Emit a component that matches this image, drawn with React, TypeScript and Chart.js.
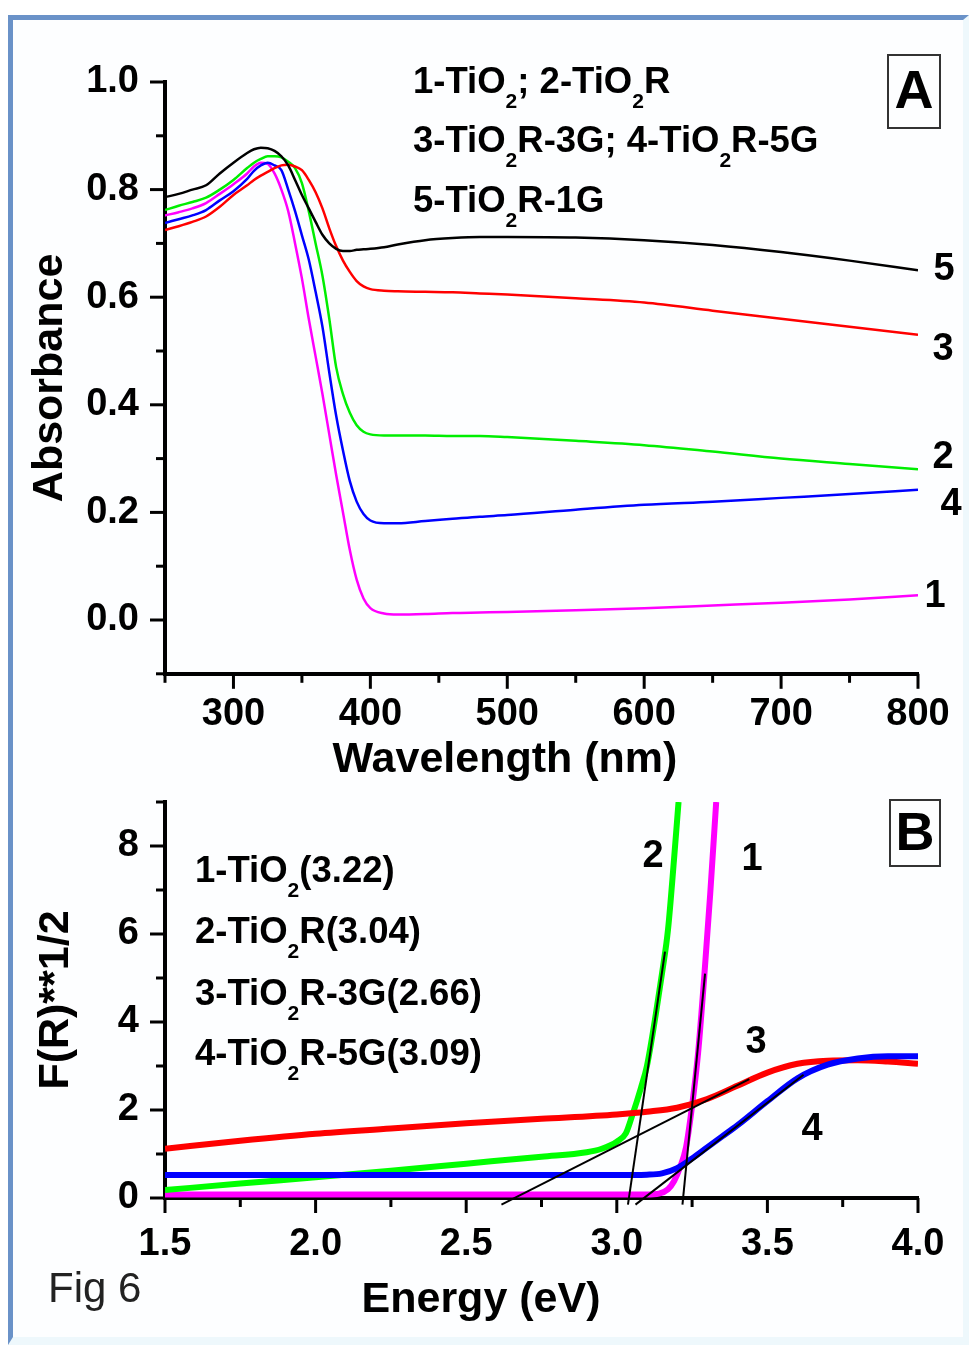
import React, { useEffect, useRef } from 'react';
import { Chart, registerables } from 'chart.js';

Chart.register(...registerables);

const FONT = '"Liberation Sans", Arial, Helvetica, sans-serif';

// ---------- Panel A: absorbance spectra ----------
const WAVELENGTH = [250, 260, 270, 280, 290, 300, 310, 315, 320, 325, 330, 335, 340, 345, 350, 355, 360, 365, 370, 375, 380, 385, 390, 395, 400, 410, 420, 440, 460, 480, 500, 550, 600, 650, 700, 750, 800];
const ABS_1_TIO2 = [0.752, 0.758, 0.765, 0.775, 0.792, 0.81, 0.83, 0.843, 0.85, 0.848, 0.83, 0.8, 0.76, 0.7, 0.635, 0.56, 0.49, 0.42, 0.345, 0.27, 0.2, 0.13, 0.075, 0.04, 0.022, 0.012, 0.01, 0.011, 0.013, 0.014, 0.015, 0.018, 0.022, 0.027, 0.032, 0.038, 0.046];
const ABS_2_TIO2R = [0.762, 0.77, 0.777, 0.785, 0.8, 0.818, 0.84, 0.85, 0.857, 0.862, 0.862, 0.86, 0.852, 0.84, 0.812, 0.76, 0.7, 0.64, 0.56, 0.47, 0.42, 0.385, 0.362, 0.35, 0.345, 0.343, 0.343, 0.343, 0.342, 0.342, 0.34, 0.333, 0.325, 0.313, 0.3, 0.29, 0.28];
const ABS_3_TIO2R_3G = [0.725, 0.732, 0.74, 0.75, 0.768, 0.79, 0.808, 0.818, 0.826, 0.833, 0.84, 0.845, 0.846, 0.843, 0.836, 0.818, 0.795, 0.765, 0.728, 0.695, 0.668, 0.647, 0.63, 0.62, 0.615, 0.612, 0.611, 0.61, 0.609, 0.607, 0.605, 0.598, 0.59, 0.575, 0.56, 0.545, 0.53];
const ABS_4_TIO2R_5G = [0.738, 0.745, 0.752, 0.762, 0.78, 0.797, 0.82, 0.835, 0.845, 0.85, 0.845, 0.836, 0.8, 0.76, 0.715, 0.67, 0.61, 0.545, 0.46, 0.38, 0.315, 0.258, 0.22, 0.197, 0.185, 0.18, 0.18, 0.184, 0.188, 0.192, 0.195, 0.205, 0.214, 0.22, 0.227, 0.234, 0.242];
const ABS_5_TIO2R_1G = [0.786, 0.792, 0.8, 0.808, 0.83, 0.85, 0.868, 0.875, 0.878, 0.877, 0.872, 0.862, 0.845, 0.818, 0.79, 0.765, 0.74, 0.716, 0.7, 0.69, 0.686, 0.686, 0.688, 0.689, 0.69, 0.693, 0.698, 0.706, 0.71, 0.712, 0.712, 0.711, 0.706, 0.697, 0.684, 0.668, 0.65];

const A_X_TICKS = [300, 400, 500, 600, 700, 800];
const A_X_MINOR = [250, 350, 450, 550, 650, 750];
const A_Y_TICKS = [0, 0.2, 0.4, 0.6, 0.8, 1.0];
const A_Y_MINOR = [-0.1, 0.1, 0.3, 0.5, 0.7, 0.9];
const A_X_TITLE = 'Wavelength (nm)';
const A_Y_TITLE = 'Absorbance';
const A_LEGEND = ['1-TiO_2; 2-TiO_2R', '3-TiO_2R-3G; 4-TiO_2R-5G', '5-TiO_2R-1G'];
const A_CURVE_LABELS = ['5', '3', '2', '4', '1'];
const A_PANEL = 'A';

// ---------- Panel B: Kubelka-Munk plots ----------
const E_1 = [1.5, 2.0, 2.5, 3.0, 3.1, 3.14, 3.17, 3.19, 3.21, 3.23, 3.25, 3.27, 3.29, 3.31, 3.33];
const F_1 = [0.08, 0.08, 0.08, 0.08, 0.08, 0.1, 0.2, 0.38, 0.7, 1.16, 2.1, 3.3, 5.0, 6.9, 9.0];
const E_2 = [1.5, 1.75, 2.0, 2.25, 2.5, 2.75, 2.9, 2.95, 3.0, 3.03, 3.05, 3.08, 3.1, 3.13, 3.15, 3.17, 3.19, 3.205];
const F_2 = [0.18, 0.33, 0.47, 0.62, 0.78, 0.94, 1.04, 1.12, 1.28, 1.47, 1.85, 2.5, 3.0, 4.2, 5.1, 6.1, 7.7, 9.0];
const E_3 = [1.5, 1.75, 2.0, 2.25, 2.5, 2.75, 3.0, 3.1, 3.2, 3.3, 3.4, 3.5, 3.6, 3.7, 3.8, 3.9, 4.0];
const F_3 = [1.12, 1.3, 1.46, 1.58, 1.7, 1.8, 1.9, 1.96, 2.05, 2.25, 2.55, 2.85, 3.05, 3.12, 3.13, 3.1, 3.05];
const E_4 = [1.5, 2.0, 2.5, 3.0, 3.1, 3.15, 3.2, 3.25, 3.3, 3.35, 3.4, 3.5, 3.6, 3.7, 3.8, 3.9, 4.0];
const F_4 = [0.52, 0.52, 0.52, 0.52, 0.53, 0.56, 0.68, 0.9, 1.15, 1.4, 1.65, 2.2, 2.72, 3.03, 3.17, 3.22, 3.22];
// tangent (band-gap extrapolation) lines: [start, end]
const TAN_1_E = [3.218, 3.293];
const TAN_1_F = [-0.15, 5.1];
const TAN_2_E = [3.037, 3.16];
const TAN_2_F = [-0.15, 5.6];
const TAN_3_E = [2.617, 3.44];
const TAN_3_F = [-0.15, 2.7];
const TAN_4_E = [3.062, 3.62];
const TAN_4_F = [-0.15, 2.8];

const B_X_TICKS = [1.5, 2.0, 2.5, 3.0, 3.5, 4.0];
const B_X_MINOR = [1.75, 2.25, 2.75, 3.25, 3.75];
const B_Y_TICKS = [0, 2, 4, 6, 8];
const B_Y_MINOR = [1, 3, 5, 7, 9];
const B_X_TITLE = 'Energy (eV)';
const B_Y_TITLE = 'F(R)**1/2';
const B_LEGEND = ['1-TiO_2(3.22)', '2-TiO_2R(3.04)', '3-TiO_2R-3G(2.66)', '4-TiO_2R-5G(3.09)'];
const B_CURVE_LABELS = ['2', '1', '3', '4'];
const B_PANEL = 'B';
const FIG_LABEL = 'Fig 6';

// ---------- layout (pixels) ----------
const W = 969;
const A_H = 790;
const B_TOP = 780;
const B_H = 565;

const toXY = (xs: number[], ys: number[]) => xs.map((x, i) => ({ x, y: ys[i] }));

function drawRich(ctx: CanvasRenderingContext2D, text: string, x: number, y: number, size: number) {
  const parts = text.split(/(_\d)/);
  let cx = x;
  ctx.textAlign = 'left';
  ctx.textBaseline = 'alphabetic';
  for (const p of parts) {
    if (!p) continue;
    if (p.startsWith('_')) {
      const s = p.slice(1);
      ctx.font = `bold ${Math.round(size * 0.58)}px ${FONT}`;
      ctx.fillText(s, cx, y + size * 0.42);
      cx += ctx.measureText(s).width;
    } else {
      ctx.font = `bold ${size}px ${FONT}`;
      ctx.fillText(p, cx, y);
      cx += ctx.measureText(p).width;
    }
  }
}

type Deco = {
  xMajor: number[]; xMinor: number[]; yMajor: number[]; yMinor: number[];
  draw: (ctx: CanvasRenderingContext2D) => void;
};

function decoPlugin(d: Deco) {
  return {
    id: 'deco',
    afterDraw(chart: any) {
      const ctx: CanvasRenderingContext2D = chart.ctx;
      const xs = chart.scales.x;
      const ys = chart.scales.y;
      const area = chart.chartArea;
      ctx.save();
      ctx.strokeStyle = '#000';
      ctx.lineWidth = 3;
      ctx.lineCap = 'butt';
      const seg = (x1: number, y1: number, x2: number, y2: number) => {
        ctx.beginPath(); ctx.moveTo(x1, y1); ctx.lineTo(x2, y2); ctx.stroke();
      };
      d.xMajor.forEach(v => { const p = xs.getPixelForValue(v); seg(p, area.bottom, p, area.bottom + 15); });
      d.xMinor.forEach(v => { const p = xs.getPixelForValue(v); seg(p, area.bottom, p, area.bottom + 9); });
      d.yMajor.forEach(v => { const p = ys.getPixelForValue(v); seg(area.left, p, area.left - 15, p); });
      d.yMinor.forEach(v => { const p = ys.getPixelForValue(v); seg(area.left, p, area.left - 9, p); });
      ctx.fillStyle = '#000';
      d.draw(ctx);
      ctx.restore();
    },
  };
}

function panelBox(ctx: CanvasRenderingContext2D, label: string, x: number, y: number, w: number, h: number) {
  ctx.save();
  ctx.strokeStyle = '#333';
  ctx.lineWidth = 2;
  ctx.strokeRect(x, y, w, h);
  ctx.fillStyle = '#000';
  ctx.font = `bold 54px ${FONT}`;
  ctx.textAlign = 'center';
  ctx.textBaseline = 'middle';
  ctx.fillText(label, x + w / 2, y + h / 2 + 2);
  ctx.restore();
}

function centered(ctx: CanvasRenderingContext2D, text: string, x: number, y: number, font: string) {
  ctx.font = font;
  ctx.textAlign = 'center';
  ctx.textBaseline = 'middle';
  ctx.fillText(text, x, y);
}

const tickFont = { family: FONT, size: 38, weight: 'bold' as const };
const titleFont = { family: FONT, size: 43, weight: 'bold' as const };

function lineDs(data: { x: number; y: number }[], color: string, width: number, order: number, extra: any = {}) {
  return {
    data,
    borderColor: color,
    backgroundColor: color,
    borderWidth: width,
    pointRadius: 0,
    fill: false,
    cubicInterpolationMode: 'monotone' as const,
    order,
    ...extra,
  };
}

const fitY = (s: any) => { s.width = 165; s.paddingTop = 0; s.paddingBottom = 0; };

function makeConfigA(): any {
  const curveLabelPos = [[944, 270], [943, 350], [943, 458], [951, 505], [935, 597]];
  return {
    type: 'line',
    data: {
      datasets: [
        lineDs(toXY(WAVELENGTH, ABS_5_TIO2R_1G), '#000000', 2.5, 1),
        lineDs(toXY(WAVELENGTH, ABS_3_TIO2R_3G), '#ff0000', 2.5, 2),
        lineDs(toXY(WAVELENGTH, ABS_2_TIO2R), '#00ee00', 2.5, 3),
        lineDs(toXY(WAVELENGTH, ABS_4_TIO2R_5G), '#0000ff', 2.5, 4),
        lineDs(toXY(WAVELENGTH, ABS_1_TIO2), '#ff00ff', 2.5, 5),
      ],
    },
    options: {
      responsive: false,
      animation: false,
      devicePixelRatio: 1,
      layout: { padding: { left: 0, top: 82, right: W - 918, bottom: 0 } },
      plugins: { legend: { display: false }, tooltip: { enabled: false } },
      scales: {
        x: {
          type: 'linear', min: 250, max: 800,
          afterBuildTicks: (s: any) => { s.ticks = A_X_TICKS.map(v => ({ value: v })); },
          afterFit: (s: any) => { s.height = A_H - 673.8; s.paddingLeft = 0; s.paddingRight = 0; },
          grid: { display: false, drawTicks: false },
          border: { display: true, color: '#000', width: 4 },
          ticks: { font: tickFont, color: '#000', padding: 18, maxRotation: 0, autoSkip: false, callback: (v: any) => String(v) },
        },
        y: {
          type: 'linear', min: -0.1, max: 1.0,
          afterBuildTicks: (s: any) => { s.ticks = A_Y_TICKS.map(v => ({ value: v })); },
          afterFit: fitY,
          grid: { display: false, drawTicks: false },
          border: { display: true, color: '#000', width: 4 },
          ticks: { font: tickFont, color: '#000', padding: 26, autoSkip: false, callback: (v: any) => Number(v).toFixed(1) },
          title: { display: true, text: A_Y_TITLE, font: titleFont, color: '#000', padding: { top: 24, bottom: 0 } },
        },
      },
    },
    plugins: [decoPlugin({
      xMajor: A_X_TICKS, xMinor: A_X_MINOR, yMajor: A_Y_TICKS, yMinor: A_Y_MINOR,
      draw: (ctx) => {
        const baselines = [93, 152, 212];
        A_LEGEND.forEach((t, i) => drawRich(ctx, t, 413, baselines[i], 36.5));
        panelBox(ctx, A_PANEL, 888, 55, 52, 73);
        A_CURVE_LABELS.forEach((t, i) => centered(ctx, t, curveLabelPos[i][0], curveLabelPos[i][1], `bold 38px ${FONT}`));
        centered(ctx, A_X_TITLE, 505, 760, `bold 43px ${FONT}`);
      },
    })],
  };
}

function makeConfigB(): any {
  const top = B_TOP;
  const curveLabelPos = [[653, 857 - top], [752, 860 - top], [756, 1043 - top], [812, 1130 - top]];
  const tanExtra = { clip: 12, cubicInterpolationMode: 'default', tension: 0 };
  return {
    type: 'line',
    data: {
      datasets: [
        lineDs(toXY(TAN_1_E, TAN_1_F), '#000000', 2, 0, tanExtra),
        lineDs(toXY(TAN_2_E, TAN_2_F), '#000000', 2, 0, tanExtra),
        lineDs(toXY(TAN_3_E, TAN_3_F), '#000000', 2, 0, tanExtra),
        lineDs(toXY(TAN_4_E, TAN_4_F), '#000000', 2, 0, tanExtra),
        lineDs(toXY(E_4, F_4), '#0000ff', 6, 1),
        lineDs(toXY(E_3, F_3), '#ff0000', 6, 2),
        lineDs(toXY(E_2, F_2), '#00ff00', 6, 3),
        lineDs(toXY(E_1, F_1), '#ff00ff', 6, 4),
      ],
    },
    options: {
      responsive: false,
      animation: false,
      devicePixelRatio: 1,
      layout: { padding: { left: 0, top: 802 - top, right: W - 918, bottom: 0 } },
      plugins: { legend: { display: false }, tooltip: { enabled: false } },
      scales: {
        x: {
          type: 'linear', min: 1.5, max: 4.0,
          afterBuildTicks: (s: any) => { s.ticks = B_X_TICKS.map(v => ({ value: v })); },
          afterFit: (s: any) => { s.height = B_H - (1198 - top); s.paddingLeft = 0; s.paddingRight = 0; },
          grid: { display: false, drawTicks: false },
          border: { display: true, color: '#000', width: 4 },
          ticks: { font: tickFont, color: '#000', padding: 24, maxRotation: 0, autoSkip: false, callback: (v: any) => Number(v).toFixed(1) },
        },
        y: {
          type: 'linear', min: 0, max: 9,
          afterBuildTicks: (s: any) => { s.ticks = B_Y_TICKS.map(v => ({ value: v })); },
          afterFit: fitY,
          grid: { display: false, drawTicks: false },
          border: { display: true, color: '#000', width: 4 },
          ticks: { font: tickFont, color: '#000', padding: 26, autoSkip: false, callback: (v: any) => String(v) },
          title: { display: true, text: B_Y_TITLE, font: titleFont, color: '#000', padding: { top: 30, bottom: 0 } },
        },
      },
    },
    plugins: [decoPlugin({
      xMajor: B_X_TICKS, xMinor: B_X_MINOR, yMajor: B_Y_TICKS, yMinor: B_Y_MINOR,
      draw: (ctx) => {
        const baselines = [882, 943, 1005, 1065].map(v => v - top);
        B_LEGEND.forEach((t, i) => drawRich(ctx, t, 195, baselines[i], 36.5));
        panelBox(ctx, B_PANEL, 890, 800 - top, 50, 66);
        B_CURVE_LABELS.forEach((t, i) => centered(ctx, t, curveLabelPos[i][0], curveLabelPos[i][1], `bold 38px ${FONT}`));
        centered(ctx, B_X_TITLE, 481, 1300 - top, `bold 43px ${FONT}`);
        ctx.fillStyle = '#222';
        ctx.font = `42px ${FONT}`;
        ctx.textAlign = 'left';
        ctx.textBaseline = 'middle';
        ctx.fillText(FIG_LABEL, 48, 1290 - top);
      },
    })],
  };
}

export default function App() {
  const refA = useRef<HTMLCanvasElement>(null);
  const refB = useRef<HTMLCanvasElement>(null);
  useEffect(() => {
    Chart.defaults.font.family = FONT;
    const a = new Chart(refA.current as HTMLCanvasElement, makeConfigA());
    const b = new Chart(refB.current as HTMLCanvasElement, makeConfigB());
    return () => { a.destroy(); b.destroy(); };
  }, []);
  return (
    <div style={{ position: 'fixed', left: 0, top: 0, width: W, height: 1345, background: '#fff', overflow: 'hidden' }}>
      <div style={{ position: 'absolute', left: 8, top: 15, right: 0, bottom: 0, borderLeft: '5px solid #6a92c8', borderTop: '5px solid #6a92c8', borderRight: '6px solid #eef8fc', borderBottom: '8px solid #eef8fc', background: '#fdfeff' }} />
      <canvas ref={refA} width={W} height={A_H} style={{ position: 'absolute', left: 0, top: 0, display: 'block' }} />
      <canvas ref={refB} width={W} height={B_H} style={{ position: 'absolute', left: 0, top: B_TOP, display: 'block' }} />
    </div>
  );
}
